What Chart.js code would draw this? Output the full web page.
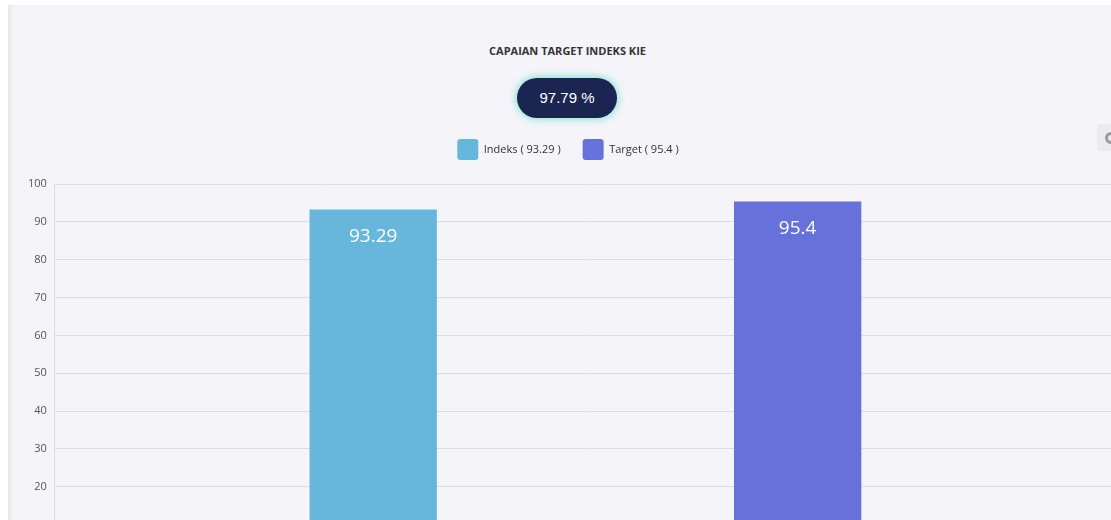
<!DOCTYPE html>
<html>
<head>
<meta charset="utf-8">
<script src="https://cdn.jsdelivr.net/npm/chart.js@4"></script>
<style>
  html, body { margin: 0; padding: 0; background: #fff; overflow: hidden; width: 1111px; height: 520px; }
  .panel {
    position: absolute; left: 8px; top: 5px; width: 1200px; height: 700px;
    background: #f4f4f9; box-shadow: inset 6px 0 8px -6px rgba(0,0,0,0.12);
  }
  .title {
    position: absolute; left: 0; width: 1119px; top: 38px; text-align: center;
    font: bold 11px "Open Sans", sans-serif; color: #333;
  }
  .pill {
    position: absolute; left: 509px; top: 73px; width: 100px; height: 40px; border-radius: 20px;
    background: #1b2552; color: #fff; font: 15px "Liberation Sans", Arial, sans-serif;
    line-height: 40px; text-align: center;
    box-shadow: 0 0 6px 2px rgba(120, 225, 200, 0.75);
  }
  .tool {
    position: absolute; left: 1089px; top: 119px; width: 30px; height: 27px;
    background: #ebebef; border-radius: 3px;
  }
  .tool::after {
    content: ""; position: absolute; left: 8px; top: 8px; width: 6px; height: 6px;
    border: 3px solid #999; border-radius: 50%;
  }
  #wrap { position: absolute; left: 0; top: 112px; width: 1118px; height: 460px; }
</style>
</head>
<body>
<div class="panel">
  <div class="title">CAPAIAN TARGET INDEKS KIE</div>
  <div class="pill">97.79 %</div>
  <div class="tool"></div>
  <div id="wrap"><canvas id="kieChart"></canvas></div>
</div>
<script>
const categories = [''];
const indeksValues = [93.29];
const targetValues = [95.4];
const seriesNames = ['Indeks ( 93.29 )', 'Target ( 95.4 )'];
const yTicks = [0, 10, 20, 30, 40, 50, 60, 70, 80, 90, 100];

// labels in the bar, just under the top edge
const barValueLabels = {
  id: 'barValueLabels',
  afterDatasetsDraw(chart) {
    const ctx = chart.ctx;
    ctx.save();
    ctx.font = '19px "Open Sans", sans-serif';
    ctx.fillStyle = '#fff';
    ctx.textAlign = 'center';
    ctx.textBaseline = 'middle';
    chart.data.datasets.forEach((ds, i) => {
      chart.getDatasetMeta(i).data.forEach((bar, j) => {
        ctx.fillText(ds.data[j], bar.x, bar.y + 27);
      });
    });
    ctx.restore();
  }
};

// push the plot down a bit under the legend
const legendSpace = {
  id: 'legendSpace',
  beforeInit(chart) {
    const fit = chart.legend.fit;
    chart.legend.fit = function () {
      fit.bind(chart.legend)();
      this.height += 14;
    };
  }
};

const ctx = document.getElementById('kieChart').getContext('2d');
new Chart(ctx, {
  type: 'bar',
  data: {
    labels: categories,
    datasets: [
      { label: seriesNames[0], data: indeksValues, backgroundColor: '#67b7dc' },
      { label: seriesNames[1], data: targetValues, backgroundColor: '#6771dc' }
    ]
  },
  plugins: [legendSpace, barValueLabels],
  options: {
    responsive: true,
    maintainAspectRatio: false,
    animation: false,
    layout: { padding: { left: 12, right: 10, top: 0, bottom: 0 } },
    datasets: { bar: { barPercentage: 0.3, categoryPercentage: 0.8 } },
    plugins: {
      tooltip: { enabled: false },
      legend: {
        position: 'top',
        labels: {
          boxWidth: 21, boxHeight: 21, padding: 22,
          useBorderRadius: true, borderRadius: 3,
          color: '#333', font: { family: '"Open Sans", sans-serif', size: 11 }
        }
      }
    },
    scales: {
      x: {
        ticks: { display: false },
        grid: { display: false },
        border: { display: false }
      },
      y: {
        min: 0, max: 100,
        afterBuildTicks: (axis) => { axis.ticks = yTicks.map(v => ({ value: v })); },
        ticks: { padding: 8, color: '#555', font: { family: '"Open Sans", sans-serif', size: 11 } },
        grid: { color: '#dcdcdc', drawTicks: false },
        border: { color: '#dcdcdc' }
      }
    }
  }
});
</script>
</body>
</html>
